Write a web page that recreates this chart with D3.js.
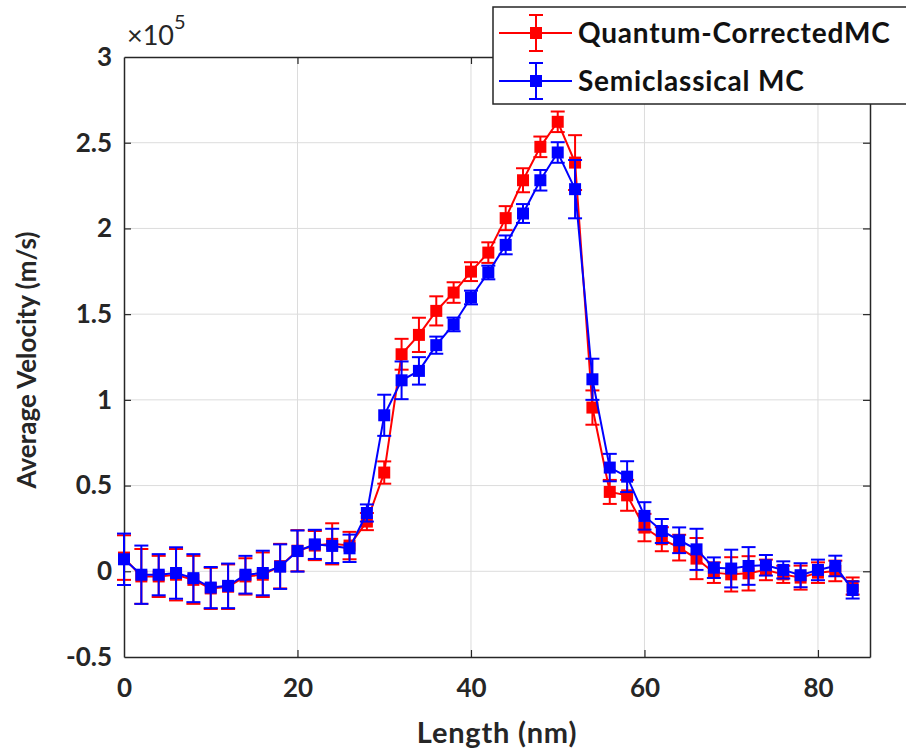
<!DOCTYPE html>
<html>
<head>
<meta charset="utf-8">
<script src="https://cdn.jsdelivr.net/npm/d3@7"></script>
<style>
  body { margin: 0; background: #fff; }
  svg { display: block; }
</style>
</head>
<body>
<script>
// Length positions (nm)
const lengths = d3.range(0, 86, 2);

// Quantum-corrected MC (x1e5 m/s) and its error bars
const qcMean = [0.08, -0.03, -0.03, -0.02, -0.05, -0.1, -0.09, -0.03, -0.02, 0.03,
  0.12, 0.15, 0.16, 0.15, 0.29, 0.576, 1.266, 1.379, 1.519, 1.626,
  1.748, 1.859, 2.06, 2.281, 2.476, 2.622, 2.384, 0.955, 0.463, 0.443,
  0.255, 0.187, 0.138, 0.074, -0.008, -0.018, -0.012, 0.008, -0.018, -0.037,
  -0.008, 0.002, -0.086];
const qcErr = [0.13, 0.16, 0.12, 0.15, 0.14, 0.12, 0.13, 0.106, 0.13, 0.13,
  0.12, 0.085, 0.12, 0.08, 0.05, 0.065, 0.09, 0.1, 0.085, 0.06,
  0.055, 0.06, 0.07, 0.07, 0.06, 0.06, 0.16, 0.1, 0.07, 0.09,
  0.08, 0.07, 0.075, 0.12, 0.06, 0.1, 0.1, 0.06, 0.05, 0.07,
  0.06, 0.06, 0.05];

// Semiclassical MC (x1e5 m/s) and its error bars
const scMean = [0.07, -0.02, -0.02, -0.01, -0.04, -0.095, -0.085, -0.02, -0.01, 0.027,
  0.118, 0.157, 0.148, 0.134, 0.34, 0.91, 1.114, 1.169, 1.319, 1.44,
  1.597, 1.743, 1.904, 2.087, 2.281, 2.443, 2.229, 1.12, 0.605, 0.552,
  0.323, 0.235, 0.181, 0.128, 0.021, 0.016, 0.031, 0.035, 0.008, -0.023,
  0.008, 0.031, -0.109];
const scErr = [0.15, 0.17, 0.12, 0.15, 0.14, 0.12, 0.13, 0.11, 0.13, 0.13,
  0.12, 0.085, 0.1, 0.08, 0.05, 0.12, 0.11, 0.08, 0.05, 0.04,
  0.04, 0.04, 0.055, 0.055, 0.06, 0.06, 0.17, 0.12, 0.08, 0.09,
  0.08, 0.07, 0.075, 0.12, 0.06, 0.11, 0.11, 0.06, 0.05, 0.07,
  0.06, 0.06, 0.05];

const xTicks = [0, 20, 40, 60, 80];
const yTicks = [-0.5, 0, 0.5, 1, 1.5, 2, 2.5, 3];

const series = [
  { name: "Quantum-CorrectedMC", color: "#ff0000", mean: qcMean, err: qcErr },
  { name: "Semiclassical MC", color: "#0000ff", mean: scMean, err: scErr }
];

const width = 906, height = 754;
const margin = { left: 124, right: 36, top: 57, bottom: 97 };
const font = "Lato, 'Open Sans', sans-serif";

const svg = d3.select("body").append("svg")
  .attr("width", width)
  .attr("height", height);

const x = d3.scaleLinear().domain([0, 86]).range([margin.left, width - margin.right]);
const y = d3.scaleLinear().domain([-0.5, 3]).range([height - margin.bottom, margin.top]);

// grid
const grid = svg.append("g").attr("stroke", "#dcdcdc").attr("stroke-width", 1);
grid.selectAll(".gx").data(xTicks.slice(1)).join("line")
  .attr("x1", d => x(d)).attr("x2", d => x(d))
  .attr("y1", y(-0.5)).attr("y2", y(3));
grid.selectAll(".gy").data(yTicks.slice(1, -1)).join("line")
  .attr("y1", d => y(d)).attr("y2", d => y(d))
  .attr("x1", x(0)).attr("x2", x(86));

// axes (ticks inward)
const axisB = svg.append("g").attr("transform", `translate(0,${y(-0.5)})`)
  .call(d3.axisBottom(x).tickValues(xTicks).tickSizeInner(-7).tickSizeOuter(0).tickPadding(22));
const axisT = svg.append("g").attr("transform", `translate(0,${y(3)})`)
  .call(d3.axisTop(x).tickValues(xTicks).tickSizeInner(-7).tickSizeOuter(0).tickFormat(""));
const axisL = svg.append("g").attr("transform", `translate(${x(0)},0)`)
  .call(d3.axisLeft(y).tickValues(yTicks).tickSizeInner(-7).tickSizeOuter(0).tickPadding(12).tickFormat(d => String(d)));
const axisR = svg.append("g").attr("transform", `translate(${x(86)},0)`)
  .call(d3.axisRight(y).tickValues(yTicks).tickSizeInner(-7).tickSizeOuter(0).tickFormat(""));

[axisB, axisT, axisL, axisR].forEach(a => {
  a.select(".domain").attr("stroke", "#262626").attr("stroke-width", 1.5);
  a.selectAll(".tick line").attr("stroke", "#262626").attr("stroke-width", 1.2);
  a.selectAll("text").attr("fill", "#262626")
    .style("font-family", font).style("font-size", "26px").style("font-weight", "bold");
});
axisB.selectAll(".tick").filter(d => d === 0).select("line").remove();
axisL.selectAll(".tick").filter(d => d === -0.5 || d === 3).select("line").remove();
axisR.selectAll(".tick").filter(d => d === -0.5 || d === 3).select("line").remove();
axisT.selectAll(".tick").filter(d => d === 0).select("line").remove();

// exponent
const expo = svg.append("text")
  .attr("x", 127).attr("y", 45)
  .attr("fill", "#262626")
  .style("font-family", font).style("font-size", "27px");
expo.append("tspan").text("\u00d710");
expo.append("tspan").attr("dy", -16).style("font-size", "20px").text("5");

// axis titles
svg.append("text")
  .attr("x", 497).attr("y", 743)
  .attr("text-anchor", "middle").attr("fill", "#262626")
  .style("font-family", font).style("font-size", "29px").style("font-weight", "bold")
  .style("letter-spacing", "0.8px")
  .text("Length (nm)");
svg.append("text")
  .attr("transform", `translate(36,360) rotate(-90)`)
  .attr("text-anchor", "middle").attr("fill", "#262626")
  .style("font-family", font).style("font-size", "26px").style("font-weight", "bold")
  .text("Average Velocity (m/s)");

// data
const line = d3.line().x(d => x(d.x)).y(d => y(d.v));
const cap = 7, ms = 12;

series.forEach(s => {
  const pts = lengths.map((l, i) => ({ x: l, v: s.mean[i], e: s.err[i] }));
  const g = svg.append("g");
  g.append("path").datum(pts)
    .attr("d", line).attr("fill", "none")
    .attr("stroke", s.color).attr("stroke-width", 2);
  const eb = g.selectAll(".eb").data(pts).join("g")
    .attr("stroke", s.color).attr("stroke-width", 2);
  eb.append("line")
    .attr("x1", d => x(d.x)).attr("x2", d => x(d.x))
    .attr("y1", d => y(d.v - d.e)).attr("y2", d => y(d.v + d.e));
  eb.append("line")
    .attr("x1", d => x(d.x) - cap).attr("x2", d => x(d.x) + cap)
    .attr("y1", d => y(d.v - d.e)).attr("y2", d => y(d.v - d.e));
  eb.append("line")
    .attr("x1", d => x(d.x) - cap).attr("x2", d => x(d.x) + cap)
    .attr("y1", d => y(d.v + d.e)).attr("y2", d => y(d.v + d.e));
  g.selectAll("rect").data(pts).join("rect")
    .attr("x", d => x(d.x) - ms / 2).attr("y", d => y(d.v) - ms / 2)
    .attr("width", ms).attr("height", ms)
    .attr("fill", s.color);
});

// legend
const legend = svg.append("g");
legend.append("rect")
  .attr("x", 493).attr("y", 7).attr("width", 430).attr("height", 97)
  .attr("fill", "#fff").attr("stroke", "#262626").attr("stroke-width", 1.5);
series.forEach((s, i) => {
  const cy = 33 + i * 48, cx = 536;
  const lg = legend.append("g").attr("stroke", s.color).attr("stroke-width", 2);
  lg.append("line").attr("x1", 499).attr("x2", 572).attr("y1", cy).attr("y2", cy);
  lg.append("line").attr("x1", cx).attr("x2", cx).attr("y1", cy - 18).attr("y2", cy + 18);
  lg.append("line").attr("x1", cx - cap).attr("x2", cx + cap).attr("y1", cy - 18).attr("y2", cy - 18);
  lg.append("line").attr("x1", cx - cap).attr("x2", cx + cap).attr("y1", cy + 18).attr("y2", cy + 18);
  legend.append("rect")
    .attr("x", cx - ms / 2).attr("y", cy - ms / 2).attr("width", ms).attr("height", ms)
    .attr("fill", s.color);
  legend.append("text")
    .attr("x", 578).attr("y", cy + 10)
    .attr("fill", "#111")
    .style("font-family", font).style("font-size", "28px").style("font-weight", "bold")
    .style("letter-spacing", "0.8px")
    .text(s.name);
});
</script>
</body>
</html>
